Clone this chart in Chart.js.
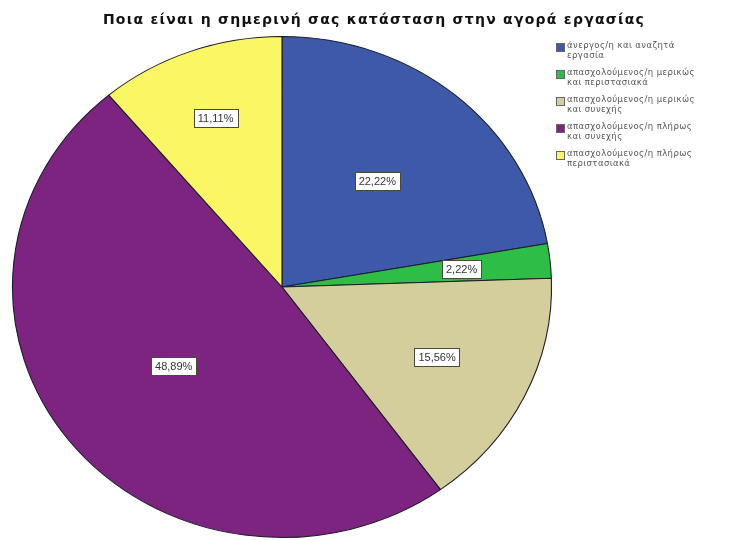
<!DOCTYPE html>
<html>
<head>
<meta charset="utf-8">
<script src="https://cdn.jsdelivr.net/npm/chart.js@4/dist/chart.umd.min.js"></script>
<style>
  body { margin: 0; background: #fff; }
  #wrap { position: relative; width: 731px; height: 540px; font-family: "Liberation Sans", Arial, sans-serif; }
  #title { position: absolute; left: 0; top: 11px; width: 748px; text-align: center; font-family: "DejaVu Sans", sans-serif; font-weight: bold; font-size: 14px; letter-spacing: 1.25px; color: #111; }
  #legend { position: absolute; left: 556px; top: 40px; font-family: "DejaVu Sans", sans-serif; font-size: 8.5px; line-height: 10px; letter-spacing: 0.4px; color: #555; }
  .item { position: relative; padding-left: 11px; margin-bottom: 7px; white-space: nowrap; }
  .item .box { position: absolute; left: 0; top: 3px; width: 9px; height: 9px; border: 1px solid #666; box-sizing: border-box; }
</style>
</head>
<body>
<div id="wrap">
  <canvas id="chartStatus" width="731" height="540"></canvas>
  <div id="title">Ποια είναι η σημερινή σας κατάσταση στην αγορά εργασίας</div>
  <div id="legend"></div>
</div>
<script>
const statusLabels = [
  ['άνεργος/η και αναζητά', 'εργασία'],
  ['απασχολούμενος/η μερικώς', 'και περιστασιακά'],
  ['απασχολούμενος/η μερικώς', 'και συνεχής'],
  ['απασχολούμενος/η πλήρως', 'και συνεχής'],
  ['απασχολούμενος/η πλήρως', 'περιστασιακά']
];
const statusPercent = [22.22, 2.22, 15.56, 48.89, 11.11];
const sliceColors = [
  "rgb(62, 88, 170)",
  "rgb(46, 190, 72)",
  "rgb(212, 205, 156)",
  "rgb(124, 36, 128)",
  "rgb(250, 246, 100)"
];
// how far out (fraction of radius) each % box sits
const labelDist = [0.55, 0.67, 0.64, 0.51, 0.72];
const stretchX = 1.076; // the original pie is a bit wider than tall

const ellipsePie = {
  id: 'ellipsePie',
  beforeDatasetsDraw(chart) {
    const arc = chart.getDatasetMeta(0).data[0];
    const ctx = chart.ctx;
    ctx.save();
    ctx.translate(arc.x, arc.y);
    ctx.scale(stretchX, 1);
    ctx.translate(-arc.x, -arc.y);
  },
  afterDatasetsDraw(chart) {
    const ctx = chart.ctx;
    ctx.restore();
    // percent boxes
    ctx.save();
    ctx.font = '11px "Liberation Sans", Arial, sans-serif';
    ctx.textAlign = 'center';
    ctx.textBaseline = 'middle';
    chart.getDatasetMeta(0).data.forEach((arc, i) => {
      const mid = (arc.startAngle + arc.endAngle) / 2;
      const r = arc.outerRadius * labelDist[i];
      const x = arc.x + Math.cos(mid) * r * stretchX;
      const y = arc.y + Math.sin(mid) * r;
      const txt = statusPercent[i].toFixed(2).replace('.', ',') + '%';
      const w = ctx.measureText(txt).width + 8;
      const h = 18;
      ctx.fillStyle = '#fff';
      ctx.fillRect(Math.round(x - w / 2), Math.round(y - h / 2), Math.round(w), h);
      ctx.strokeStyle = '#4a4a3a';
      ctx.lineWidth = 1;
      ctx.strokeRect(Math.round(x - w / 2) + 0.5, Math.round(y - h / 2) + 0.5, Math.round(w), h);
      ctx.fillStyle = '#333';
      ctx.fillText(txt, x, y + 1);
    });
    ctx.restore();
  }
};

new Chart("chartStatus", {
  type: "pie",
  data: {
    labels: statusLabels.map(l => l.join(' ')),
    datasets: [{
      data: statusPercent,
      backgroundColor: sliceColors,
      borderColor: '#1c1c2a',
      borderWidth: 1
    }]
  },
  options: {
    responsive: false,
    animation: false,
    layout: { padding: { top: 36, left: 31, right: 198, bottom: 2 } },
    plugins: {
      legend: { display: false },
      tooltip: { enabled: false }
    }
  },
  plugins: [ellipsePie]
});

// legend
const legend = document.getElementById('legend');
statusLabels.forEach((lines, i) => {
  const div = document.createElement('div');
  div.classList.add('item');
  const box = document.createElement('span');
  box.classList.add('box');
  box.style.background = sliceColors[i];
  div.appendChild(box);
  div.appendChild(document.createTextNode(lines[0]));
  div.appendChild(document.createElement('br'));
  div.appendChild(document.createTextNode(lines[1]));
  legend.appendChild(div);
});
</script>
</body>
</html>
